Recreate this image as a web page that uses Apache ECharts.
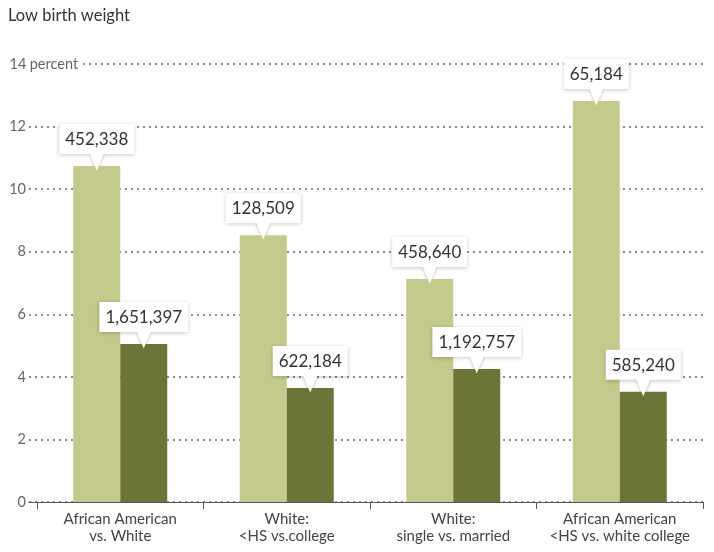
<!DOCTYPE html>
<html>
<head>
<meta charset="utf-8">
<script src="https://cdn.jsdelivr.net/npm/echarts@6/dist/echarts.min.js"></script>
<style>html,body{margin:0;padding:0;background:#fff}#c{width:714px;height:552px}</style>
</head>
<body>
<div id="c"></div>
<script>
var categories = ['African American\nvs. White', 'White:\n<HS vs.college', 'White:\nsingle vs. married', 'African American\n<HS vs. white college'];
var lightValues = [10.74, 8.53, 7.13, 12.82];
var darkValues = [5.05, 3.64, 4.25, 3.52];
var lightCounts = [452338, 128509, 458640, 65184];
var darkCounts = [1651397, 622184, 1192757, 585240];
var yTicks = [0, 2, 4, 6, 8, 10, 12, 14];

var LIGHT = '#c3ca8b';
var DARK = '#6c7537';
var FONT = 'Lato, "Open Sans", sans-serif';

function fmt(n) { return n.toLocaleString('en-US'); }

var chart = echarts.init(document.getElementById('c'));

function labelCfg(counts) {
  return {
    show: true,
    position: 'top',
    distance: 12,
    formatter: function (p) { return fmt(counts[p.dataIndex]); },
    fontFamily: FONT,
    fontSize: 17,
    color: '#333',
    backgroundColor: '#fff',
    padding: [7, 6, 6, 6],
    shadowBlur: 4,
    shadowColor: 'rgba(0,0,0,0.22)',
    shadowOffsetY: 1
  };
}

function pointer(data, dx, shadow, z) {
  return {
    type: 'scatter', xAxisIndex: 1, yAxisIndex: 1, data: data,
    symbol: 'triangle', symbolRotate: 180, symbolSize: [14, 17], symbolOffset: [dx, -4],
    itemStyle: shadow
      ? { color: '#fff', opacity: 1, shadowBlur: 3, shadowColor: 'rgba(0,0,0,0.3)', shadowOffsetY: 1 }
      : { color: '#fff', opacity: 1 },
    silent: true, z: z
  };
}

chart.setOption({
  animation: false,
  title: {
    text: 'Low birth weight',
    left: 8, top: 7, padding: 0,
    textStyle: { fontFamily: FONT, fontSize: 16.5, fontWeight: 'normal', color: '#333' }
  },
  grid: [
    { left: 29, right: 11, top: 64, bottom: 50 },
    { left: 37, right: 11, top: 64, bottom: 50 }
  ],
  xAxis: [
    {
      gridIndex: 0, type: 'category', data: categories,
      axisLine: { show: true, lineStyle: { color: '#555', width: 1 } },
      axisTick: { show: false }, axisLabel: { show: false }, splitLine: { show: false }
    },
    {
      gridIndex: 1, type: 'category', data: categories,
      axisLine: { show: false },
      axisTick: { show: true, length: 7, lineStyle: { color: '#555' } },
      axisLabel: { interval: 0, fontFamily: FONT, fontSize: 15, color: '#444', lineHeight: 17, margin: 9 }
    }
  ],
  yAxis: [
    {
      gridIndex: 0, type: 'value', min: 0, max: 14, interval: 2,
      axisLine: { show: false }, axisTick: { show: false },
      splitLine: { show: true, lineStyle: { color: '#8a8a8a', width: 2, type: [2, 4] } },
      axisLabel: {
        align: 'left', margin: 19,
        formatter: function (v) {
          if (yTicks.indexOf(v) < 0) return '';
          return v === 14 ? '{n|' + v + '}{p| percent}' : '{n|' + v + '}';
        },
        rich: {
          n: { width: 16, align: 'right', fontFamily: FONT, fontSize: 14.5, color: '#666' },
          p: { fontFamily: FONT, fontSize: 14.5, color: '#666', backgroundColor: '#fff', padding: [2, 5, 2, 0] }
        }
      }
    },
    {
      gridIndex: 1, type: 'value', min: 0, max: 14, interval: 2, show: false,
      splitLine: { show: false }
    }
  ],
  series: [
    pointer(lightValues, -23.5, true, 1),
    pointer(darkValues, 23.5, true, 1),
    {
      type: 'bar', xAxisIndex: 1, yAxisIndex: 1, data: lightValues,
      barWidth: 47, barGap: '0%', itemStyle: { color: LIGHT },
      label: labelCfg(lightCounts), z: 2
    },
    {
      type: 'bar', xAxisIndex: 1, yAxisIndex: 1, data: darkValues,
      barWidth: 47, barGap: '0%', itemStyle: { color: DARK },
      label: labelCfg(darkCounts), z: 2
    },
    pointer(lightValues, -23.5, false, 10),
    pointer(darkValues, 23.5, false, 10)
  ]
});
</script>
</body>
</html>
